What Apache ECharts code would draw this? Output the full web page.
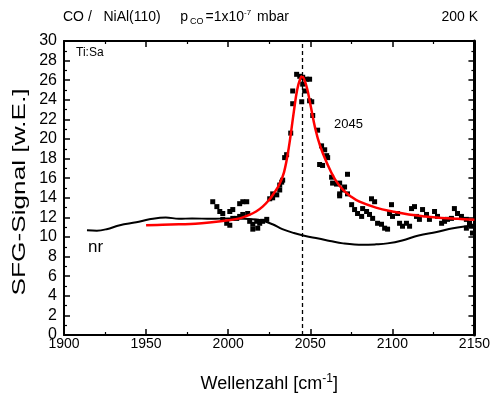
<!DOCTYPE html>
<html><head><meta charset="utf-8">
<script src="https://cdn.jsdelivr.net/npm/echarts@6/dist/echarts.min.js"></script>
<style>html,body{margin:0;padding:0;background:#fff}#c{width:493px;height:398px}</style>
</head><body><div id="c"></div>
<script>
// ---- data ----
const xTicks = [1900, 1950, 2000, 2050, 2100, 2150];
const yTicks = [0, 2, 4, 6, 8, 10, 12, 14, 16, 18, 20, 22, 24, 26, 28, 30];
const peakPosition = 2045;

const pointsWavenumber = [1990.6,1993.1,1994.9,1996.7,1996.7,1999.1,2001.0,2001.0,2002.8,2002.8,2005.2,2007.0,2007.0,2008.9,2008.9,2011.3,2011.9,2013.1,2015.0,2015.0,2017.4,2018.0,2019.2,2021.0,2023.5,2025.3,2027.1,2027.1,2029.6,2031.4,2031.4,2032.6,2033.2,2034.4,2035.6,2038.1,2039.3,2039.3,2041.7,2043.6,2044.8,2045.4,2045.4,2046.6,2047.8,2049.6,2049.6,2050.9,2051.5,2054.5,2055.7,2056.9,2057.5,2058.8,2060.0,2060.6,2063.0,2063.6,2066.0,2067.9,2067.9,2067.9,2069.7,2070.9,2072.7,2072.7,2075.2,2077.0,2078.8,2081.3,2081.9,2084.3,2086.1,2087.3,2088.0,2089.2,2091.0,2093.4,2095.3,2097.1,2098.3,2099.5,2100.1,2103.2,2104.4,2106.2,2108.6,2110.5,2111.7,2113.5,2114.7,2116.5,2118.4,2120.8,2122.6,2125.7,2127.5,2130.0,2131.8,2133.6,2136.0,2137.8,2139.7,2142.1,2145.1,2145.1,2147.0,2148.2,2148.8];
const pointsSignal = [13.6,13.1,12.6,12.4,11.8,11.4,12.6,11.2,12.8,11.9,11.9,13.4,12.1,13.6,12.3,13.6,12.4,11.6,11.3,10.8,11.6,10.9,11.4,11.6,11.8,13.9,14.0,14.4,14.3,14.8,15.3,15.6,15.8,18.1,18.4,20.6,23.6,24.9,26.6,26.4,23.8,26.3,25.6,24.9,26.1,26.1,23.9,23.8,22.4,20.9,17.4,19.3,17.3,18.9,18.3,18.1,16.1,15.5,15.4,15.5,14.4,14.2,14.8,15.1,16.4,14.4,13.3,12.8,12.4,12.1,12.9,12.6,12.3,13.9,11.9,13.6,11.4,11.3,10.9,10.8,12.4,13.3,12.1,12.4,11.4,11.1,11.4,11.1,12.9,13.1,12.1,11.8,12.8,12.3,11.8,12.6,12.1,11.4,11.6,11.8,11.9,12.9,12.4,12.1,11.8,10.9,11.4,11.1,10.4];

const fitWavenumber = [1950,1960,1970,1980,1990,2000,2007,2012,2017,2021,2025,2028,2031,2034,2037,2040,2042,2044,2045,2046,2048,2050,2053,2056,2060,2065,2070,2075,2080,2090,2100,2110,2120,2130,2140,2150];
const fitSignal = [11.2,11.25,11.3,11.35,11.5,11.7,11.9,12.2,12.6,13.1,13.8,14.5,15.3,16.6,19.2,22.8,25.0,26.2,26.4,26.2,25.2,23.6,21.1,19.3,17.6,15.9,14.8,14.1,13.6,13.0,12.6,12.3,12.1,11.95,11.85,11.75];

const nrWavenumber = [1914,1920,1926,1934,1944,1952,1962,1970,1978,1990,2000,2010,2020,2027,2033,2040,2047,2055,2062,2070,2082,2090,2097,2106,2116,2127,2137,2150];
const nrSignal = [10.7,10.65,10.8,11.2,11.5,11.8,12.0,11.85,11.9,11.85,11.9,11.85,11.7,11.3,10.8,10.4,10.1,9.85,9.6,9.35,9.2,9.25,9.35,9.65,10.15,10.5,10.9,11.2];

const zip = (a, b) => a.map((v, i) => [v, b[i]]);
const FONT = '"Liberation Sans", Arial, sans-serif';

const chart = echarts.init(document.getElementById('c'), null, {renderer: 'canvas'});
const axisCommon = {
  axisLine: {show: true, onZero: false, lineStyle: {color: '#000', width: 2}},
  axisTick: {show: true, inside: true, length: 6, lineStyle: {color: '#000', width: 1.5}},
  minorTick: {show: true, splitNumber: 2, length: 3, lineStyle: {color: '#000', width: 1.2}},
  splitLine: {show: false}
};
chart.setOption({
  animation: false,
  backgroundColor: '#fff',
  title: [
    {left: 63, top: 9, padding: 0, text: 'CO /   NiAl(110)     p{sub|CO}=1x10{sup|-7} mbar',
     textStyle: {fontFamily: FONT, fontSize: 14, fontWeight: 'normal', color: '#000',
       rich: {sub: {fontFamily: FONT, fontSize: 9, padding: [8, 2, 0, 2]}, sup: {fontFamily: FONT, fontSize: 8, padding: [0, 2, 9, 0]}}}},
    {right: 15, top: 10, padding: 0, text: '200 K', textStyle: {fontFamily: FONT, fontSize: 14, fontWeight: 'normal', color: '#000'}}
  ],
  grid: {left: 64, right: 18, top: 41, bottom: 56},
  xAxis: [
    Object.assign({type: 'value', min: xTicks[0], max: xTicks[xTicks.length-1], interval: 50, position: 'bottom',
      axisLabel: {fontFamily: FONT, fontSize: 14, color: '#000', margin: 2, formatter: v => String(v)},
      name: 'Wellenzahl [cm{sup|-1}]', nameLocation: 'middle', nameGap: 38,
      nameTextStyle: {fontFamily: FONT, fontSize: 18, color: '#000', rich: {sup: {fontFamily: FONT, fontSize: 12, padding: [0, 0, 10, 0]}}}}, axisCommon),
    Object.assign({type: 'value', min: xTicks[0], max: xTicks[xTicks.length-1], interval: 50, position: 'top',
      axisLabel: {show: false}}, axisCommon)
  ],
  yAxis: [
    Object.assign({type: 'value', min: yTicks[0], max: yTicks[yTicks.length-1], interval: 2, position: 'left',
      axisLabel: {fontFamily: FONT, fontSize: 16, color: '#000', margin: 7}}, axisCommon),
    Object.assign({type: 'value', min: yTicks[0], max: yTicks[yTicks.length-1], interval: 2, position: 'right',
      axisLabel: {show: false}}, axisCommon, {axisLine: {show: true, onZero: false, lineStyle: {color: '#000', width: 3}}})
  ],
  series: [
    {type: 'line', name: 'nr', data: zip(nrWavenumber, nrSignal), smooth: 0.4, symbol: 'none',
     lineStyle: {color: '#000', width: 2}, z: 2,
     markLine: {silent: true, symbol: 'none', label: {show: false},
       lineStyle: {color: '#000', type: [4, 3], width: 1.3}, data: [{xAxis: peakPosition}]}},
    {type: 'scatter', name: 'data', data: zip(pointsWavenumber, pointsSignal), symbol: 'rect', symbolSize: 5,
     itemStyle: {color: '#000', opacity: 1}, z: 3},
    {type: 'line', name: 'fit', data: zip(fitWavenumber, fitSignal), smooth: 0.4, symbol: 'none',
     lineStyle: {color: '#ff0000', width: 2.5}, z: 4}
  ],
  graphic: [
    {type: 'text', x: 20, y: 192, rotation: Math.PI / 2, scaleX: 1.38,
     style: {text: 'SFG-Signal [w.E.]', fontFamily: FONT, fontSize: 19, fill: '#000', align: 'center', verticalAlign: 'middle'}},
    {type: 'text', left: 76, top: 47, style: {text: 'Ti:Sa', fontFamily: FONT, fontSize: 12, fill: '#000'}},
    {type: 'text', left: 334, top: 118, style: {text: '2045', fontFamily: FONT, fontSize: 13, fill: '#000'}},
    {type: 'text', left: 88, top: 239, style: {text: 'nr', fontFamily: FONT, fontSize: 17, fill: '#000'}}
  ]
});
</script></body></html>
